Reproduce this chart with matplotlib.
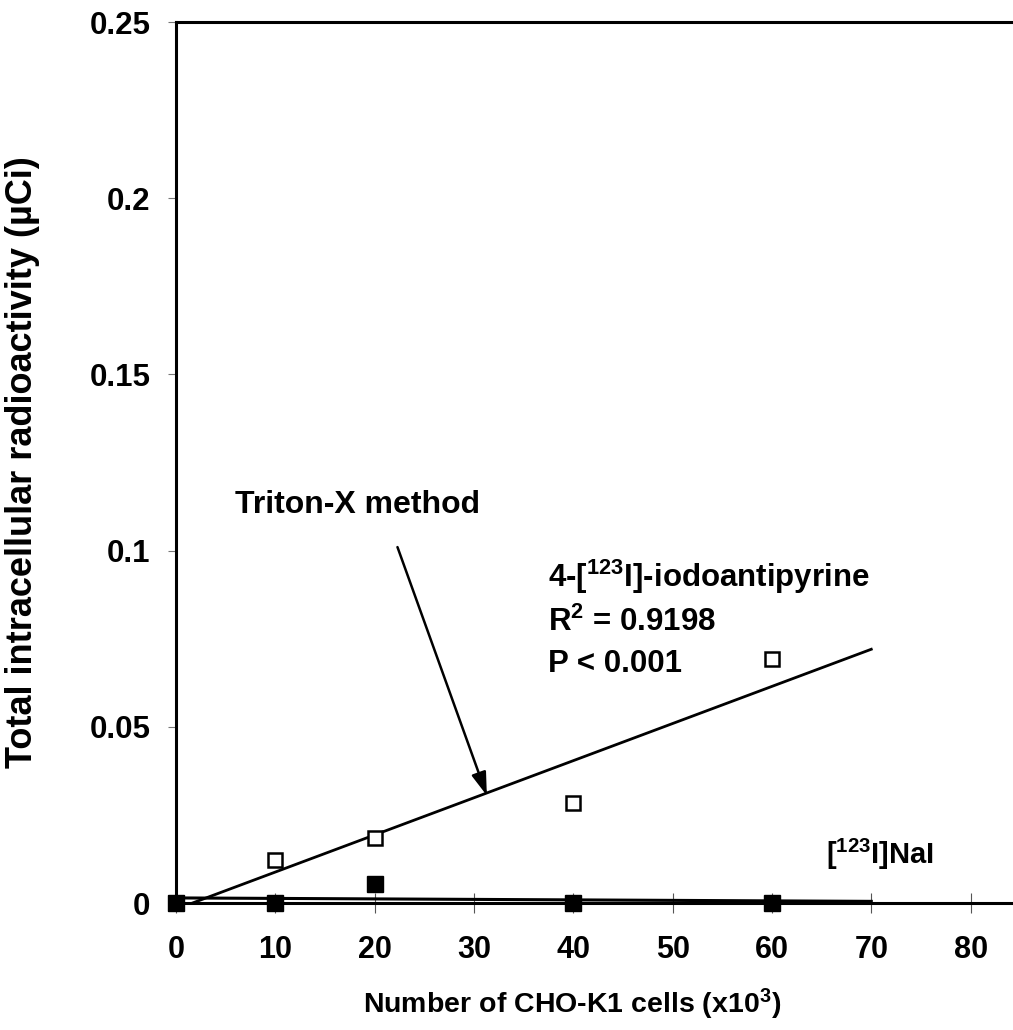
import numpy as np
import matplotlib
matplotlib.use("Agg")
import matplotlib.pyplot as plt

plt.rcParams['font.family'] = ['Liberation Sans', 'DejaVu Sans']
plt.rcParams['font.weight'] = 'bold'
plt.rcParams['mathtext.default'] = 'regular'

# Data
cells = [0, 10, 20, 40, 60]
antipyrine = [0.0, 0.0122, 0.0184, 0.0284, 0.0692]
nai = [0.0, 0.0, 0.0054, 0.0, 0.0]
fit_range = [0, 70]
x_ticks = [0, 10, 20, 30, 40, 50, 60, 70, 80]
y_ticks = [0, 0.05, 0.1, 0.15, 0.2, 0.25]
y_tick_labels = ['0', '0.05', '0.1', '0.15', '0.2', '0.25']

fig = plt.figure(figsize=(10.13, 10.30), dpi=100)
ax = fig.add_axes([0.1737, 0.1233, 0.8825, 0.8553])

# regression lines
xf = np.array(fit_range, dtype=float)
p1 = np.polyfit(cells, antipyrine, 1)
p2 = np.polyfit(cells, nai, 1)
ax.plot(xf, np.polyval(p1, xf), color='black', lw=2.0, zorder=2)
ax.plot(xf, np.polyval(p2, xf), color='black', lw=2.2, zorder=2)

ax.plot(cells, antipyrine, linestyle='none', marker='s', markersize=10.5,
        markerfacecolor='white', markeredgecolor='black', markeredgewidth=1.8,
        zorder=4, clip_on=False)
ax.plot(cells, nai, linestyle='none', marker='s', markersize=11,
        markerfacecolor='black', markeredgecolor='black', zorder=5, clip_on=False)

ax.set_xlim(0, 90)
ax.set_ylim(0, 0.25)
ax.set_xticks(x_ticks)
ax.set_xticklabels([str(v) for v in x_ticks])
ax.set_yticks(y_ticks)
ax.set_yticklabels(y_tick_labels)

for s in ['left', 'top', 'bottom']:
    ax.spines[s].set_linewidth(2.2)
ax.spines['right'].set_visible(False)

ax.tick_params(axis='x', direction='inout', length=14, width=0.8, labelsize=22, pad=16,
               color='#555555')
ax.tick_params(axis='y', direction='out', length=6, width=0.8, labelsize=22.5, pad=12.5,
               color='#777777')
for lab in ax.get_xticklabels() + ax.get_yticklabels():
    lab.set_fontweight('bold')

ax.set_xlabel('Number of CHO-K1 cells (x10$^{3}$)', fontsize=20.5, fontweight='bold')
ax.xaxis.set_label_coords(0.443, -0.095)
ax.set_ylabel('Total intracellular radioactivity (µCi)', fontsize=26, fontweight='bold')
ax.yaxis.set_label_coords(-0.152, 0.5)

ax.text(5.9, 0.113, 'Triton-X method', fontsize=23, fontweight='bold', va='center', ha='left')
ax.annotate('', xy=(31.3, 0.0305), xytext=(22.3, 0.101),
            arrowprops=dict(arrowstyle='-|>,head_length=1.4,head_width=0.45',
                            color='black', lw=1.8, shrinkA=0, shrinkB=0))

ax.text(37.5, 0.0925, '4-[$^{123}$I]-iodoantipyrine', fontsize=22.5,
        fontweight='bold', va='center', ha='left')
ax.text(37.5, 0.0797, 'R$^{2}$ = 0.9198', fontsize=22.5, fontweight='bold',
        va='center', ha='left')
ax.text(37.5, 0.0678, 'P < 0.001', fontsize=22.5, fontweight='bold', va='center', ha='left')
ax.text(65.4, 0.0138, '[$^{123}$I]NaI', fontsize=21, fontweight='bold',
        va='center', ha='left')

fig.savefig('out.png', dpi=100)
